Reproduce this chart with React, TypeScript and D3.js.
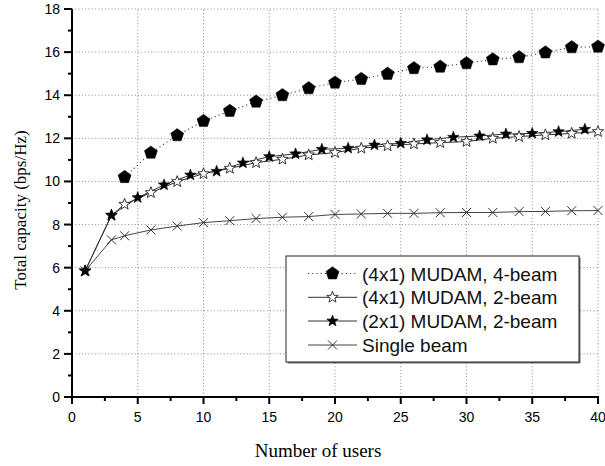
import React from "react";
import * as d3 from "d3";

const xTicks = [0, 5, 10, 15, 20, 25, 30, 35, 40];
const yTicks = [0, 2, 4, 6, 8, 10, 12, 14, 16, 18];

const beam4X = [4, 6, 8, 10, 12, 14, 16, 18, 20, 22, 24, 26, 28, 30, 32, 34, 36, 38, 40];
const beam4Y = [10.2, 11.33, 12.14, 12.8, 13.27, 13.7, 14.0, 14.32, 14.58, 14.75, 14.99, 15.25, 15.32, 15.48, 15.66, 15.76, 15.98, 16.22, 16.25];

const open2X = [1, 3, 4, 6, 8, 10, 12, 14, 16, 18, 20, 22, 24, 26, 28, 30, 32, 34, 36, 38, 40];
const open2Y = [5.85, 8.43, 8.94, 9.48, 9.99, 10.36, 10.61, 10.87, 11.03, 11.23, 11.34, 11.54, 11.65, 11.74, 11.8, 11.85, 12.0, 12.08, 12.16, 12.23, 12.31];

const filled2X = [1, 3, 5, 7, 9, 11, 13, 15, 17, 19, 21, 23, 25, 27, 29, 31, 33, 35, 37, 39];
const filled2Y = [5.85, 8.43, 9.25, 9.84, 10.3, 10.47, 10.86, 11.15, 11.28, 11.49, 11.54, 11.69, 11.77, 11.93, 12.05, 12.11, 12.2, 12.23, 12.31, 12.42];

const singleX = [1, 3, 4, 6, 8, 10, 12, 14, 16, 18, 20, 22, 24, 26, 28, 30, 32, 34, 36, 38, 40];
const singleY = [5.85, 7.29, 7.48, 7.75, 7.93, 8.09, 8.18, 8.28, 8.34, 8.37, 8.47, 8.49, 8.52, 8.52, 8.55, 8.56, 8.56, 8.6, 8.61, 8.64, 8.65];

const legendLabels = ["(4x1) MUDAM, 4-beam", "(4x1) MUDAM, 2-beam", "(2x1) MUDAM, 2-beam", "Single beam"];

const W = 605, H = 466;
const x = d3.scaleLinear().domain([0, 40]).range([72, 598]);
const y = d3.scaleLinear().domain([0, 18]).range([397, 9]);

function polyPath(n: number, R: number, rInner: number | null) {
  const pts: [number, number][] = [];
  const k = rInner === null ? n : n * 2;
  for (let i = 0; i < k; i++) {
    const r = rInner === null ? R : i % 2 === 0 ? R : rInner;
    const a = -Math.PI / 2 + (i * 2 * Math.PI) / k;
    pts.push([r * Math.cos(a), r * Math.sin(a)]);
  }
  return "M" + pts.map((p) => p[0].toFixed(2) + "," + p[1].toFixed(2)).join("L") + "Z";
}
const pentagon = polyPath(5, 6.8, null);
const star = polyPath(5, 6, 2.5);
const cross = "M-4.5,-4.5L4.5,4.5M-4.5,4.5L4.5,-4.5";

type Kind = "pent" | "open" | "filled" | "x";
function Marker({ kind, cx, cy }: { kind: Kind; cx: number; cy: number }) {
  const t = `translate(${cx},${cy})`;
  if (kind === "pent") return <path d={pentagon} transform={t} fill="#000" stroke="#000" strokeWidth={0.5} />;
  if (kind === "open") return <path d={star} transform={t} fill="#fff" stroke="#222" strokeWidth={0.9} />;
  if (kind === "filled") return <path d={star} transform={t} fill="#000" stroke="#000" strokeWidth={0.6} />;
  return <path d={cross} transform={t} fill="none" stroke="#333" strokeWidth={1} />;
}

const line = d3
  .line<[number, number]>()
  .x((d) => x(d[0]))
  .y((d) => y(d[1]));

function zip(a: number[], b: number[]): [number, number][] {
  return a.map((v, i) => [v, b[i]]);
}

export default function App() {
  const series = [
    { xs: beam4X, ys: beam4Y, kind: "pent" as Kind, stroke: "#444", dash: "1.2,3", width: 1.1 },
    { xs: open2X, ys: open2Y, kind: "open" as Kind, stroke: "#333", dash: undefined, width: 1 },
    { xs: filled2X, ys: filled2Y, kind: "filled" as Kind, stroke: "#333", dash: undefined, width: 1 },
    { xs: singleX, ys: singleY, kind: "x" as Kind, stroke: "#444", dash: undefined, width: 1 },
  ];
  const drawOrder = [3, 1, 2, 0];
  const minorX = d3.range(2.5, 40, 5);
  const minorY = d3.range(1, 18, 2);
  const legX = 286, legY = 256, legW = 293, legH = 106;
  const rowY = [273.5, 297.3, 321, 345];
  return (
    <svg width={W} height={H} style={{ position: "absolute", left: 0, top: 0, background: "#fff" }}>
      <rect width={W} height={H} fill="#fff" />
      {/* grid */}
      <g stroke="#8a8a8a" strokeWidth={1} strokeDasharray="1,2.3">
        {xTicks.slice(1).map((t) => (
          <line key={"gx" + t} x1={x(t)} x2={x(t)} y1={y(0)} y2={y(18)} />
        ))}
        {yTicks.slice(1).map((t) => (
          <line key={"gy" + t} x1={x(0)} x2={x(40)} y1={y(t)} y2={y(t)} />
        ))}
      </g>
      {/* series lines */}
      {drawOrder.map((i) => {
        const s = series[i];
        return (
          <path key={"l" + i} d={line(zip(s.xs, s.ys)) || ""} fill="none" stroke={s.stroke} strokeWidth={s.width} strokeDasharray={s.dash} />
        );
      })}
      {drawOrder.map((i) => {
        const s = series[i];
        return (
          <g key={"m" + i}>
            {s.xs.map((v, j) => (
              <Marker key={j} kind={s.kind} cx={x(v)} cy={y(s.ys[j])} />
            ))}
          </g>
        );
      })}
      {/* axes */}
      <g stroke="#000" strokeWidth={2}>
        <line x1={x(0)} x2={x(0)} y1={y(0) + 1} y2={y(18)} />
        <line x1={x(0) - 1} x2={x(40) + 1} y1={y(0)} y2={y(0)} />
        {xTicks.map((t) => (
          <line key={"tx" + t} x1={x(t)} x2={x(t)} y1={y(0)} y2={y(0) + 7} />
        ))}
        {minorX.map((t) => (
          <line key={"mx" + t} x1={x(t)} x2={x(t)} y1={y(0)} y2={y(0) + 4} />
        ))}
        {yTicks.map((t) => (
          <line key={"ty" + t} x1={x(0) - 8} x2={x(0)} y1={y(t)} y2={y(t)} />
        ))}
        {minorY.map((t) => (
          <line key={"my" + t} x1={x(0) - 4} x2={x(0)} y1={y(t)} y2={y(t)} />
        ))}
      </g>
      <g fontFamily="Liberation Sans, Arial, sans-serif" fontSize={14} fill="#000">
        {xTicks.map((t) => (
          <text key={"lx" + t} x={x(t)} y={422} textAnchor="middle">
            {t}
          </text>
        ))}
        {yTicks.map((t) => (
          <text key={"ly" + t} x={60} y={y(t) + 5} textAnchor="end">
            {t}
          </text>
        ))}
      </g>
      <text x={318} y={457} textAnchor="middle" fontFamily="Liberation Serif, Times New Roman, serif" fontSize={19}>
        Number of users
      </text>
      <text
        transform={`translate(26,210) rotate(-90)`}
        textAnchor="middle"
        fontFamily="Liberation Serif, Times New Roman, serif"
        fontSize={17}
      >
        Total capacity (bps/Hz)
      </text>
      {/* legend */}
      <rect x={legX + 1.5} y={legY + 1.5} width={legW} height={legH} fill="#777" />
      <rect x={legX} y={legY} width={legW} height={legH} fill="#fff" stroke="#222" strokeWidth={1} />
      {series.map((s, i) => (
        <g key={"lg" + i}>
          <line x1={308} x2={357} y1={rowY[i]} y2={rowY[i]} stroke={s.stroke} strokeWidth={s.width} strokeDasharray={s.dash} />
          <Marker kind={s.kind} cx={332.5} cy={rowY[i]} />
          <text x={362} y={rowY[i] + 7} fontFamily="Liberation Sans, Arial, sans-serif" fontSize={19} fill="#111">
            {legendLabels[i]}
          </text>
        </g>
      ))}
    </svg>
  );
}
